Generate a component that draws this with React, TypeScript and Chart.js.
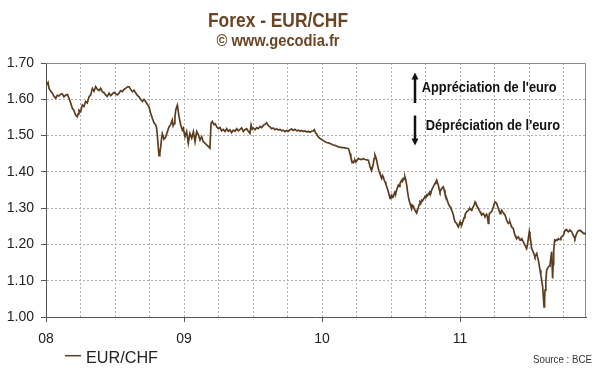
import React, { useEffect, useRef } from "react";
import { Chart, registerables } from "chart.js";

Chart.register(...registerables);

// ---- Texts ----
const TITLE = "Forex - EUR/CHF";
const SUBTITLE = "© www.gecodia.fr";
const SERIES_LABEL = "EUR/CHF";
const SOURCE = "Source : BCE";
const NOTE_UP = "Appréciation de l'euro";
const NOTE_DOWN = "Dépréciation de l'euro";

// ---- Axes ----
const firstYear = 2008;
const yearLabels = ["08", "09", "10", "11"];
const xMax = 2011.913;
const yTickValues = [1.0, 1.1, 1.2, 1.3, 1.4, 1.5, 1.6, 1.7];

// ---- Data (decimal year, EUR/CHF rate) ----
const dates2008 = [2008.000,2008.008,2008.015,2008.022,2008.034,2008.046,2008.058,2008.070,2008.082,2008.094,2008.106,2008.118,2008.130,2008.143,2008.155,2008.167,2008.179,2008.191,2008.203,2008.215,2008.227,2008.233,2008.239,2008.251,2008.263,2008.275,2008.287,2008.299,2008.312,2008.324,2008.336,2008.348,2008.360,2008.372,2008.384,2008.396,2008.408,2008.420,2008.432,2008.444,2008.457,2008.469,2008.481,2008.493,2008.505,2008.517,2008.529,2008.541,2008.553,2008.565,2008.577,2008.589,2008.601,2008.613,2008.626,2008.638,2008.650,2008.662,2008.674,2008.686,2008.698,2008.710,2008.722,2008.734,2008.746,2008.758,2008.771,2008.783,2008.795,2008.801,2008.807,2008.813,2008.819,2008.825,2008.831,2008.837,2008.843,2008.855,2008.867,2008.879,2008.891,2008.903,2008.915,2008.921,2008.928,2008.934,2008.940,2008.946,2008.952,2008.958,2008.964,2008.976,2008.988];
const rates2008 = [1.648,1.642,1.646,1.630,1.622,1.617,1.608,1.603,1.611,1.609,1.614,1.615,1.607,1.612,1.613,1.603,1.590,1.575,1.569,1.556,1.552,1.560,1.570,1.566,1.584,1.580,1.594,1.590,1.607,1.612,1.630,1.622,1.635,1.628,1.624,1.630,1.621,1.618,1.612,1.608,1.617,1.610,1.615,1.619,1.615,1.612,1.617,1.624,1.621,1.627,1.630,1.634,1.635,1.628,1.621,1.625,1.617,1.611,1.607,1.600,1.594,1.600,1.594,1.586,1.580,1.562,1.547,1.535,1.529,1.522,1.500,1.470,1.445,1.452,1.468,1.490,1.505,1.490,1.496,1.510,1.524,1.530,1.543,1.527,1.533,1.550,1.570,1.578,1.584,1.568,1.552,1.530,1.515];

const dates2009 = [2008.995,2009.007,2009.019,2009.031,2009.043,2009.056,2009.068,2009.080,2009.092,2009.104,2009.116,2009.128,2009.140,2009.152,2009.164,2009.176,2009.188,2009.196,2009.205,2009.217,2009.227,2009.237,2009.249,2009.261,2009.273,2009.285,2009.297,2009.309,2009.321,2009.333,2009.345,2009.357,2009.369,2009.382,2009.394,2009.406,2009.418,2009.430,2009.442,2009.454,2009.466,2009.478,2009.486,2009.494,2009.502,2009.514,2009.527,2009.539,2009.551,2009.563,2009.575,2009.587,2009.599,2009.611,2009.623,2009.635,2009.647,2009.659,2009.672,2009.684,2009.696,2009.708,2009.720,2009.732,2009.744,2009.756,2009.768,2009.780,2009.792,2009.804,2009.817,2009.829,2009.841,2009.853,2009.865,2009.877,2009.889,2009.901,2009.913,2009.925,2009.935,2009.944,2009.953,2009.961,2009.973,2009.986,2009.998];
const rates2009 = [1.520,1.497,1.511,1.479,1.506,1.493,1.511,1.483,1.511,1.502,1.488,1.497,1.483,1.479,1.474,1.470,1.465,1.534,1.539,1.530,1.532,1.524,1.519,1.522,1.513,1.517,1.511,1.519,1.512,1.516,1.508,1.515,1.512,1.519,1.513,1.517,1.521,1.511,1.516,1.519,1.512,1.506,1.529,1.518,1.521,1.516,1.522,1.519,1.525,1.522,1.528,1.531,1.535,1.527,1.524,1.519,1.521,1.516,1.519,1.515,1.517,1.513,1.515,1.511,1.514,1.512,1.516,1.518,1.514,1.517,1.513,1.515,1.512,1.514,1.511,1.513,1.510,1.512,1.509,1.512,1.513,1.516,1.508,1.505,1.496,1.492,1.489];

const dates2010 = [2010.010,2010.022,2010.034,2010.046,2010.058,2010.070,2010.082,2010.094,2010.106,2010.118,2010.130,2010.143,2010.155,2010.167,2010.179,2010.191,2010.197,2010.203,2010.209,2010.215,2010.221,2010.227,2010.233,2010.239,2010.245,2010.251,2010.263,2010.275,2010.287,2010.299,2010.312,2010.324,2010.336,2010.342,2010.348,2010.354,2010.360,2010.366,2010.372,2010.378,2010.384,2010.390,2010.396,2010.402,2010.408,2010.414,2010.420,2010.426,2010.432,2010.438,2010.444,2010.450,2010.457,2010.463,2010.469,2010.475,2010.481,2010.487,2010.493,2010.499,2010.505,2010.511,2010.517,2010.523,2010.529,2010.535,2010.541,2010.547,2010.553,2010.559,2010.565,2010.571,2010.577,2010.583,2010.589,2010.595,2010.601,2010.607,2010.614,2010.620,2010.626,2010.632,2010.638,2010.644,2010.650,2010.656,2010.662,2010.668,2010.674,2010.680,2010.686,2010.692,2010.698,2010.704,2010.710,2010.716,2010.722,2010.728,2010.734,2010.740,2010.746,2010.752,2010.758,2010.764,2010.771,2010.777,2010.783,2010.789,2010.795,2010.801,2010.807,2010.813,2010.819,2010.825,2010.831,2010.837,2010.843,2010.849,2010.855,2010.861,2010.867,2010.873,2010.879,2010.885,2010.891,2010.897,2010.903,2010.909,2010.915,2010.921,2010.928,2010.934,2010.940,2010.946,2010.952,2010.958,2010.964,2010.970,2010.976,2010.982,2010.988,2010.994];
const rates2010 = [1.486,1.483,1.481,1.480,1.478,1.476,1.474,1.473,1.471,1.469,1.468,1.467,1.467,1.466,1.465,1.464,1.458,1.450,1.440,1.432,1.426,1.425,1.430,1.432,1.427,1.430,1.437,1.435,1.434,1.436,1.434,1.433,1.432,1.424,1.414,1.408,1.405,1.412,1.423,1.437,1.446,1.440,1.432,1.420,1.409,1.401,1.395,1.388,1.382,1.390,1.386,1.378,1.372,1.366,1.359,1.352,1.345,1.336,1.327,1.333,1.336,1.330,1.331,1.340,1.345,1.342,1.350,1.357,1.363,1.360,1.368,1.372,1.377,1.374,1.382,1.379,1.386,1.378,1.363,1.345,1.331,1.320,1.313,1.305,1.299,1.308,1.306,1.298,1.294,1.290,1.287,1.295,1.302,1.310,1.317,1.314,1.322,1.320,1.324,1.328,1.331,1.329,1.336,1.334,1.340,1.338,1.345,1.343,1.350,1.355,1.359,1.364,1.368,1.372,1.377,1.370,1.363,1.352,1.345,1.350,1.354,1.357,1.359,1.350,1.340,1.333,1.327,1.320,1.313,1.308,1.304,1.299,1.294,1.288,1.281,1.270,1.262,1.260,1.258,1.252,1.248,1.255];

const dates2011 = [2011.000,2011.006,2011.012,2011.018,2011.024,2011.030,2011.036,2011.042,2011.048,2011.054,2011.060,2011.066,2011.072,2011.078,2011.085,2011.091,2011.097,2011.103,2011.109,2011.115,2011.121,2011.127,2011.133,2011.139,2011.145,2011.151,2011.157,2011.163,2011.169,2011.175,2011.181,2011.187,2011.193,2011.199,2011.205,2011.209,2011.213,2011.221,2011.229,2011.236,2011.242,2011.248,2011.254,2011.260,2011.266,2011.272,2011.278,2011.284,2011.290,2011.296,2011.302,2011.308,2011.314,2011.320,2011.326,2011.332,2011.338,2011.344,2011.350,2011.356,2011.362,2011.368,2011.374,2011.380,2011.386,2011.392,2011.399,2011.405,2011.411,2011.417,2011.423,2011.429,2011.435,2011.441,2011.447,2011.453,2011.459,2011.465,2011.471,2011.477,2011.483,2011.489,2011.495,2011.502,2011.507,2011.512,2011.519,2011.525,2011.531,2011.537,2011.543,2011.550,2011.556,2011.562,2011.568,2011.574,2011.580,2011.586,2011.592,2011.599,2011.604,2011.609,2011.613,2011.616,2011.622,2011.628,2011.634,2011.640,2011.646,2011.652,2011.659,2011.664,2011.668,2011.671,2011.675,2011.679,2011.686,2011.693,2011.700,2011.706,2011.712,2011.719,2011.725,2011.731,2011.737,2011.743,2011.749,2011.755,2011.761,2011.767,2011.773,2011.779,2011.785,2011.791,2011.797,2011.803,2011.809,2011.815,2011.821,2011.827,2011.833,2011.839,2011.845,2011.851,2011.857,2011.863,2011.870,2011.876,2011.882,2011.888,2011.894,2011.900,2011.907,2011.913];
const rates2011 = [1.262,1.256,1.253,1.260,1.267,1.274,1.281,1.286,1.290,1.292,1.294,1.297,1.299,1.296,1.294,1.300,1.304,1.310,1.317,1.312,1.308,1.303,1.299,1.294,1.290,1.286,1.281,1.284,1.285,1.281,1.278,1.281,1.283,1.275,1.258,1.272,1.285,1.288,1.290,1.297,1.304,1.311,1.317,1.315,1.313,1.306,1.299,1.292,1.285,1.290,1.294,1.290,1.287,1.284,1.281,1.274,1.267,1.262,1.258,1.260,1.262,1.255,1.248,1.246,1.244,1.234,1.225,1.220,1.216,1.219,1.221,1.216,1.212,1.214,1.216,1.211,1.207,1.202,1.198,1.193,1.189,1.200,1.216,1.235,1.222,1.212,1.189,1.184,1.179,1.172,1.166,1.171,1.175,1.165,1.156,1.143,1.129,1.115,1.101,1.083,1.055,1.028,1.050,1.074,1.100,1.129,1.134,1.138,1.140,1.143,1.166,1.180,1.140,1.106,1.145,1.184,1.212,1.210,1.213,1.212,1.216,1.214,1.213,1.218,1.221,1.223,1.225,1.232,1.239,1.240,1.241,1.238,1.235,1.237,1.239,1.237,1.235,1.230,1.225,1.220,1.216,1.223,1.230,1.234,1.237,1.238,1.239,1.237,1.235,1.233,1.230,1.231,1.229,1.230];

const LINE_COLOR = "#5c3d1f";
const TITLE_COLOR = "#6a4524";
const FONT = "Arial, 'Liberation Sans', sans-serif";

function fitText(ctx: CanvasRenderingContext2D, text: string, x: number, baseline: number, width: number, font: string, color: string, align: "left" | "center" | "right") {
  ctx.save();
  ctx.font = font;
  ctx.fillStyle = color;
  ctx.textBaseline = "alphabetic";
  ctx.textAlign = "left";
  const w = ctx.measureText(text).width;
  const s = width / w;
  let left = x;
  if (align === "center") left = x - width / 2;
  if (align === "right") left = x - width;
  ctx.translate(left, baseline);
  ctx.scale(s, 1);
  ctx.fillText(text, 0, 0);
  ctx.restore();
}

function arrow(ctx: CanvasRenderingContext2D, x: number, yTail: number, yTip: number) {
  const dir = yTip < yTail ? -1 : 1;
  ctx.save();
  ctx.strokeStyle = "#111";
  ctx.fillStyle = "#111";
  ctx.lineWidth = 2.5;
  ctx.beginPath();
  ctx.moveTo(x, yTail);
  ctx.lineTo(x, yTip - dir * 6);
  ctx.stroke();
  ctx.beginPath();
  ctx.moveTo(x, yTip);
  ctx.lineTo(x - 3.5, yTip - dir * 7);
  ctx.lineTo(x + 3.5, yTip - dir * 7);
  ctx.closePath();
  ctx.fill();
  ctx.restore();
}

const decorPlugin = {
  id: "decor",
  beforeDatasetsDraw(chart: any) {
    const { ctx, chartArea: a } = chart;
    ctx.save();
    ctx.strokeStyle = "#8a8a8a";
    ctx.lineWidth = 1;
    ctx.beginPath();
    ctx.moveTo(a.left, Math.round(a.top) + 0.5);
    ctx.lineTo(Math.round(a.right) - 0.5, Math.round(a.top) + 0.5);
    ctx.lineTo(Math.round(a.right) - 0.5, a.bottom);
    ctx.stroke();
    ctx.restore();
  },
  afterDraw(chart: any) {
    const ctx: CanvasRenderingContext2D = chart.ctx;
    // Titles
    fitText(ctx, TITLE, 278, 26.7, 140, `bold 20px ${FONT}`, TITLE_COLOR, "center");
    fitText(ctx, SUBTITLE, 278, 46, 123, `bold 17px ${FONT}`, TITLE_COLOR, "center");
    // Annotations
    arrow(ctx, 415, 103, 72.5);
    arrow(ctx, 415, 115.5, 145.5);
    fitText(ctx, NOTE_UP, 421.7, 92.3, 135, `bold 14px ${FONT}`, "#111", "left");
    fitText(ctx, NOTE_DOWN, 425.7, 130, 134.3, `bold 14px ${FONT}`, "#111", "left");
    // Legend
    const ds = chart.data.datasets[0];
    ctx.save();
    ctx.strokeStyle = ds.borderColor;
    ctx.lineWidth = 1.5;
    ctx.beginPath();
    ctx.moveTo(65, 355.7);
    ctx.lineTo(81, 355.7);
    ctx.stroke();
    ctx.restore();
    fitText(ctx, ds.label, 86, 362.7, 72, `16px ${FONT}`, "#222", "left");
    // Source
    fitText(ctx, SOURCE, 592, 362.7, 59, `11px ${FONT}`, "#333", "right");
  },
};

export default function App() {
  const ref = useRef<HTMLCanvasElement | null>(null);

  useEffect(() => {
    if (!ref.current) return;
    const dates = [...dates2008, ...dates2009, ...dates2010, ...dates2011];
    const rates = [...rates2008, ...rates2009, ...rates2010, ...rates2011];
    const points = dates.map((d, i) => ({ x: d, y: rates[i] }));

    const chart = new Chart(ref.current, {
      type: "line",
      data: {
        datasets: [
          {
            label: SERIES_LABEL,
            data: points,
            borderColor: LINE_COLOR,
            backgroundColor: LINE_COLOR,
            borderWidth: 1.7,
            pointRadius: 0,
            tension: 0,
          },
        ],
      },
      options: {
        animation: false,
        responsive: false,
        devicePixelRatio: 1,
        layout: { padding: { top: 63, right: 14, left: 0, bottom: 0 } },
        plugins: {
          legend: { display: false },
          title: { display: false },
          tooltip: { enabled: false },
        },
        scales: {
          x: {
            type: "linear",
            min: firstYear,
            max: xMax,
            afterBuildTicks: (scale: any) => {
              const t: any[] = [];
              yearLabels.forEach((_, i) => {
                for (let q = 0; q < 4; q++) {
                  const v = firstYear + i + q / 4;
                  if (v <= xMax) t.push({ value: v });
                }
              });
              scale.ticks = t;
            },
            afterFit: (scale: any) => {
              scale.height = 55;
            },
            ticks: {
              autoSkip: false,
              maxRotation: 0,
              padding: 9,
              color: "#222",
              font: { family: FONT, size: 14 },
              callback: (v: any) => {
                const n = Number(v);
                return Number.isInteger(n) ? yearLabels[n - firstYear] : "";
              },
            },
            grid: {
              color: (c: any) =>
                c.tick && c.tick.value === firstYear ? "rgba(0,0,0,0)" : "#b0b0b0",
              tickColor: (c: any) =>
                c.tick && Number.isInteger(c.tick.value) ? "#555" : "rgba(0,0,0,0)",
              tickLength: 5,
              lineWidth: 1,
            },
            border: { color: "#555", width: 1, dash: [2, 2] },
          },
          y: {
            type: "linear",
            min: 1.0,
            max: 1.7,
            afterBuildTicks: (scale: any) => {
              scale.ticks = yTickValues.map((v) => ({ value: v }));
            },
            afterFit: (scale: any) => {
              scale.width = 46;
            },
            ticks: {
              padding: 7,
              color: "#222",
              font: { family: FONT, size: 14 },
              callback: (v: any) => Number(v).toFixed(2),
            },
            grid: {
              color: (c: any) =>
                c.tick && c.tick.value === 1.0 ? "rgba(0,0,0,0)" : "#b0b0b0",
              tickColor: "#555",
              tickLength: 5,
              lineWidth: 1,
            },
            border: { color: "#555", width: 1, dash: [2, 2] },
          },
        },
      },
      plugins: [decorPlugin],
    });

    return () => chart.destroy();
  }, []);

  return (
    <div style={{ position: "fixed", left: 0, top: 0, width: 600, height: 372, background: "#fff" }}>
      <canvas ref={ref} width={600} height={372} />
    </div>
  );
}
